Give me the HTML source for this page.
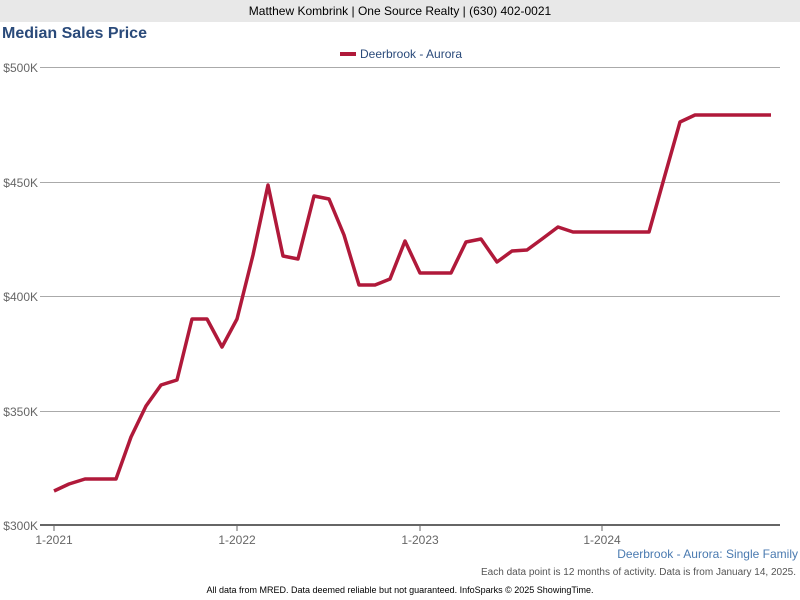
<!DOCTYPE html>
<html><head><style>
body{margin:0;width:800px;height:600px;background:#fff;font-family:"Liberation Sans",sans-serif;overflow:hidden;position:relative}
.hdr{position:absolute;left:0;top:0;width:800px;height:22px;background:#e8e8e8;text-align:center;font-size:12px;line-height:22px;color:#000}
.t{position:absolute;left:2px;top:25px;font-size:16px;font-weight:bold;color:#2a4a7a}
</style></head><body>
<div class="hdr">Matthew Kombrink | One Source Realty | (630) 402-0021</div>
<div class="t">Median Sales Price</div>
<svg width="800" height="600" style="position:absolute;left:0;top:0" font-family="Liberation Sans, sans-serif">
<g stroke="#aaa" stroke-width="1">
<line x1="40" y1="67.5" x2="780" y2="67.5"/>
<line x1="40" y1="182.5" x2="780" y2="182.5"/>
<line x1="40" y1="296.5" x2="780" y2="296.5"/>
<line x1="40" y1="411.5" x2="780" y2="411.5"/>
</g>
<line x1="40" y1="525" x2="780" y2="525" stroke="#666" stroke-width="2"/>
<g stroke="#666" stroke-width="1"><line x1="54" y1="525" x2="54" y2="531"/><line x1="237" y1="525" x2="237" y2="531"/><line x1="420" y1="525" x2="420" y2="531"/><line x1="602" y1="525" x2="602" y2="531"/></g>
<g font-size="12" fill="#666" text-anchor="end">
<text x="38" y="72">$500K</text><text x="38" y="187">$450K</text><text x="38" y="301">$400K</text><text x="38" y="416">$350K</text><text x="38" y="530">$300K</text>
</g>
<g font-size="12" fill="#666" text-anchor="middle">
<text x="54" y="544">1-2021</text><text x="237" y="544">1-2022</text><text x="420" y="544">1-2023</text><text x="602" y="544">1-2024</text>
</g>
<line x1="340" y1="54" x2="356" y2="54" stroke="#b0193a" stroke-width="4"/>
<text x="360" y="58" font-size="12" fill="#2a4a7a">Deerbrook - Aurora</text>
<polyline fill="none" stroke="#b0193a" stroke-width="3.5" stroke-linejoin="round" points="54,491 69,484 85,479 100,479 116,479 131,437 146,406 161,385 177,380 192,319 207,319 222,347 237,319 253,255 268,185 283,256 298,259 314,196 329,199 344,235 359,285 375,285 390,279 405,241 420,273 436,273 451,273 466,242 481,239 497,262 512,251 527,250 542,239 558,227 573,232 588,232 603,232 619,232 634,232 649,232 665,175 680,122 695,115 710,115 726,115 741,115 756,115 771,115"/>
<text x="798" y="558" font-size="12" fill="#4a7ab0" text-anchor="end">Deerbrook - Aurora: Single Family</text>
<text x="796" y="575" font-size="10" fill="#555" text-anchor="end">Each data point is 12 months of activity. Data is from January 14, 2025.</text>
<text x="400" y="593" font-size="9" fill="#000" text-anchor="middle">All data from MRED. Data deemed reliable but not guaranteed. InfoSparks © 2025 ShowingTime.</text>
</svg>
</body></html>
